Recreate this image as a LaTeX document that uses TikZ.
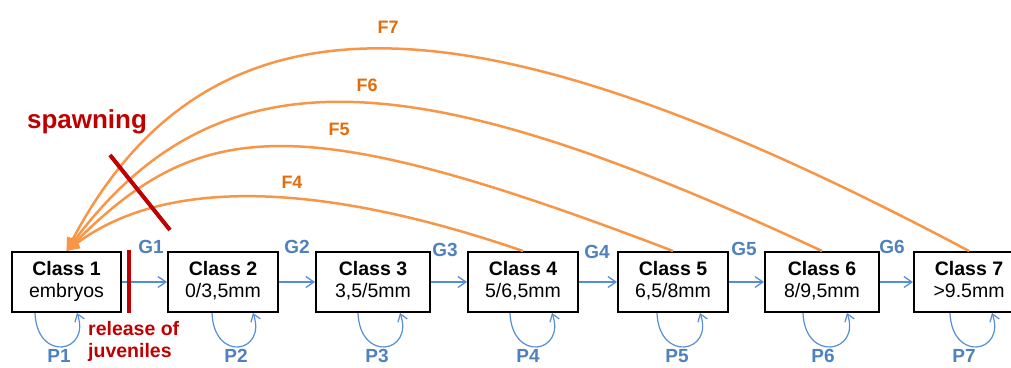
\documentclass[tikz,border=0pt]{standalone}
\usepackage{fontspec}
\setmainfont{Liberation Sans}
\usetikzlibrary{arrows.meta,calc}
\definecolor{gblue}{RGB}{85,142,213}
\definecolor{lblue}{RGB}{79,129,189}
\definecolor{farc}{RGB}{247,150,70}
\definecolor{flabc}{RGB}{228,108,10}
\definecolor{dred}{RGB}{192,0,0}
\begin{document}
\begin{tikzpicture}[x=1pt,y=-1pt,
  cls/.style={draw=black, line width=2pt, inner sep=0pt, minimum height=60pt,
    align=center, font=\fontsize{19.5}{22}\selectfont},
  glab/.style={text=lblue, inner sep=0pt, font=\bfseries\fontsize{19}{22}\selectfont},
  flab/.style={text=flabc, inner sep=0pt, font=\bfseries\fontsize{18}{22}\selectfont},
  garrow/.style={draw=gblue, line width=1.3pt, -{Straight Barb[length=8pt,width=11pt]}},
  ploop/.style={draw=gblue, line width=1.2pt, -{Straight Barb[length=7pt,width=10pt]}},
  farrow/.style={draw=farc, line width=2.5pt, -{Triangle[length=13pt,width=12pt]}},
  redline/.style={draw=dred, line width=3.5pt},
  redtext/.style={text=dred, inner sep=0pt}
]
\useasboundingbox (0,0) rectangle (1011,367);

% class boxes
\node[cls, minimum width=109pt] (c1) at (66.5,282) {\strut\textbf{Class 1}\\\strut embryos};
\node[cls, minimum width=110pt] (c2) at (223,282) {\strut\textbf{Class 2}\\\strut 0/3,5mm};
\node[cls, minimum width=114pt] (c3) at (373,282) {\strut\textbf{Class 3}\\\strut 3,5/5mm};
\node[cls, minimum width=110pt] (c4) at (523,282) {\strut\textbf{Class 4}\\\strut 5/6,5mm};
\node[cls, minimum width=110pt] (c5) at (673,282) {\strut\textbf{Class 5}\\\strut 6,5/8mm};
\node[cls, minimum width=114pt] (c6) at (822,282) {\strut\textbf{Class 6}\\\strut 8/9,5mm};
\node[cls, minimum width=110pt] (c7) at (969,282) {\strut\textbf{Class 7}\\\strut >9.5mm};

% growth arrows
\foreach \a/\b in {c1/c2,c2/c3,c3/c4,c4/c5,c5/c6,c6/c7}
  \draw[garrow] (\a.east) -- (\b.west);

\node[glab] (g1) at (151,247) {G1};
\node[glab] (g2) at (297,247) {G2};
\node[glab] (g3) at (445,250) {G3};
\node[glab] (g4) at (597,252) {G4};
\node[glab] (g5) at (744,249) {G5};
\node[glab] (g6) at (892,247) {G6};

% survival loops
\foreach \n/\s/\e/\l in {1/24/66/48, 2/45/86/69, 3/43/85/62, 4/43/85/61, 5/40/83/60, 6/39/83/59, 7/37/79/51}{
  \draw[ploop] ($(c\n.south west)+(\s,0)$) .. controls +(2,50) and +(14,40) .. ($(c\n.south west)+(\e,0)$);
  \node[glab] (p\n) at ($(c\n.south west)+(\l,43)$) {P\n};
}

% fecundity arcs
\draw[farrow] (c4.north) .. controls +(-189,-65) and +(104,-78) .. (c1.north);
\draw[farrow] (c5.north) .. controls +(-374,-143) and +(134,-134) .. (c1.north);
\draw[farrow] (c6.north) .. controls +(-399,-186) and +(156,-208) .. (c1.north);
\draw[farrow] (c7.north) .. controls +(-477,-253) and +(150,-283) .. (c1.north);

\node[flab] (f4) at (292,182) {F4};
\node[flab] (f5) at (339,129) {F5};
\node[flab] (f6) at (367,85) {F6};
\node[flab] (f7) at (388,27) {F7};

% spawning
\coordinate (sp1) at (110,155);
\coordinate (sp2) at (170,230);
\draw[redline, line width=4pt] (sp1) -- (sp2);
\node[redtext, anchor=base, font=\bfseries\fontsize{26}{30}\selectfont] (spawn) at (87,128) {spawning};

% release of juveniles
\coordinate (r1) at (129,250);
\coordinate (r2) at (129,313);
\draw[redline] (r1) -- (r2);
\node[redtext, anchor=north west, align=left, font=\bfseries\fontsize{19.5}{22}\selectfont] (rel) at (88,320) {\strut release of\\\strut juveniles};
\end{tikzpicture}
\end{document}
